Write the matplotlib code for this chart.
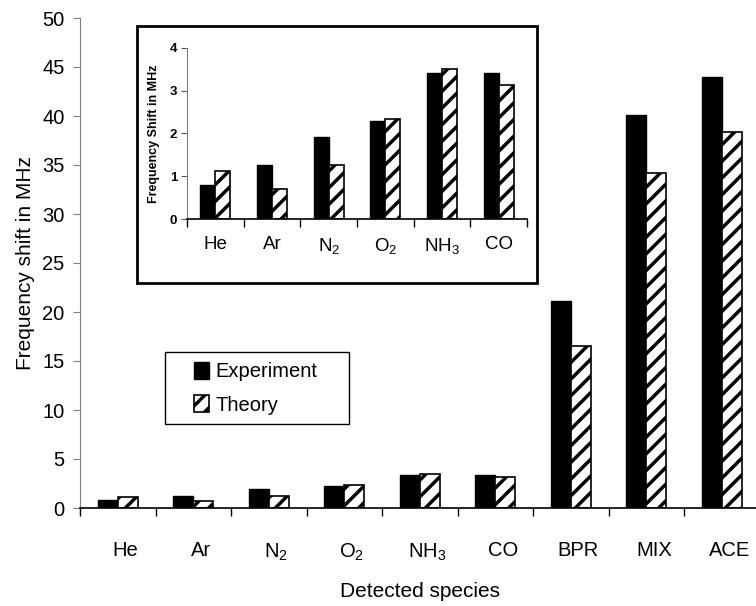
import matplotlib
matplotlib.use("Agg")
import matplotlib.pyplot as plt
from matplotlib.patches import Rectangle

species = ["He", "Ar", r"$\mathregular{N_2}$", r"$\mathregular{O_2}$",
           r"$\mathregular{NH_3}$", "CO", "BPR", "MIX", "ACE"]
experiment = [0.79, 1.26, 1.92, 2.28, 3.40, 3.40, 21.1, 40.1, 44.0]
theory = [1.13, 0.69, 1.27, 2.33, 3.51, 3.12, 16.5, 34.2, 38.4]

main_yticks = [0, 5, 10, 15, 20, 25, 30, 35, 40, 45, 50]
inset_yticks = [0, 1, 2, 3, 4]
n_inset = 6

plt.rcParams["font.family"] = ["Liberation Sans", "DejaVu Sans"]
plt.rcParams["hatch.linewidth"] = 2.5

W, H = 756, 606
bar_w = 0.265


def fig_box(x0, y0, x1, y1):
    # pixel box (top-left origin) -> figure fraction [l, b, w, h]
    return [x0 / W, 1 - y1 / H, (x1 - x0) / W, (y1 - y0) / H]


def draw_bars(ax, exp, theo):
    x = list(range(len(exp)))
    ax.bar([i - bar_w / 2 for i in x], exp, bar_w, color="black",
           edgecolor="black", linewidth=1, label="Experiment")
    ax.bar([i + bar_w / 2 for i in x], theo, bar_w, color="white",
           edgecolor="black", linewidth=1.2, hatch="//", label="Theory")


def style_axes(ax, n, labels, label_shift, label_size, label_pad):
    ax.set_xlim(-0.5, n - 0.5)
    ax.spines["top"].set_visible(False)
    ax.spines["right"].set_visible(False)
    ax.spines["left"].set_color("#7f7f7f")
    ax.spines["bottom"].set_color("black")
    ax.spines["bottom"].set_linewidth(1.2)
    ax.set_xticks([i - 0.5 for i in range(n + 1)])
    ax.set_xticklabels([])
    ax.tick_params(axis="x", which="major", direction="out", length=6,
                   width=1, color="black")
    ax.set_xticks([i + label_shift for i in range(n)], minor=True)
    ax.set_xticklabels(labels, minor=True, fontsize=label_size)
    ax.tick_params(axis="x", which="minor", length=0, pad=label_pad)


fig = plt.figure(figsize=(W / 100, H / 100), dpi=100)

# main chart
ax = fig.add_axes(fig_box(80, 18, 759.5, 508))
draw_bars(ax, experiment, theory)
style_axes(ax, len(species), species, 0.1, 14.5, 24)
ax.set_ylim(0, 50)
ax.set_yticks(main_yticks)
ax.tick_params(axis="y", direction="out", length=5, color="#7f7f7f",
               labelsize=14.5, pad=6)
ax.set_ylabel("Frequency shift in MHz", fontsize=15, labelpad=5)
ax.set_xlabel("Detected species", fontsize=15, labelpad=14)

# legend with a hand-placed frame
leg = ax.legend(loc="upper left", bbox_to_anchor=(194 / W, 1 - 362 / H),
                bbox_transform=fig.transFigure, fontsize=14.5, frameon=False,
                handlelength=0.75, handleheight=0.9, handletextpad=0.3,
                borderpad=0, labelspacing=0.7, borderaxespad=0)
fig.patches.append(Rectangle((165 / W, 1 - 424 / H), 184 / W, 72 / H,
                             transform=fig.transFigure, fill=False,
                             edgecolor="black", linewidth=1.0, zorder=5))

# inset frame
fig.patches.append(Rectangle((137 / W, 1 - 283 / H), 400 / W, 257 / H,
                             transform=fig.transFigure, fill=True,
                             facecolor="white", edgecolor="black",
                             linewidth=2, zorder=2))

# inset chart
axi = fig.add_axes(fig_box(187, 47.7, 527, 219))
axi.set_zorder(3)
axi.patch.set_alpha(0)
draw_bars(axi, experiment[:n_inset], theory[:n_inset])
style_axes(axi, n_inset, species[:n_inset], 0.0, 13.5, 12)
axi.set_ylim(0, 4)
axi.set_yticks(inset_yticks)
axi.tick_params(axis="y", direction="out", length=4, color="#555555",
                labelsize=9.5, pad=3)
for t in axi.get_yticklabels():
    t.set_fontweight("bold")
axi.set_ylabel("Frequency Shift in MHz", fontsize=9, fontweight="bold",
               labelpad=7)

fig.savefig("out.png", dpi=100)
